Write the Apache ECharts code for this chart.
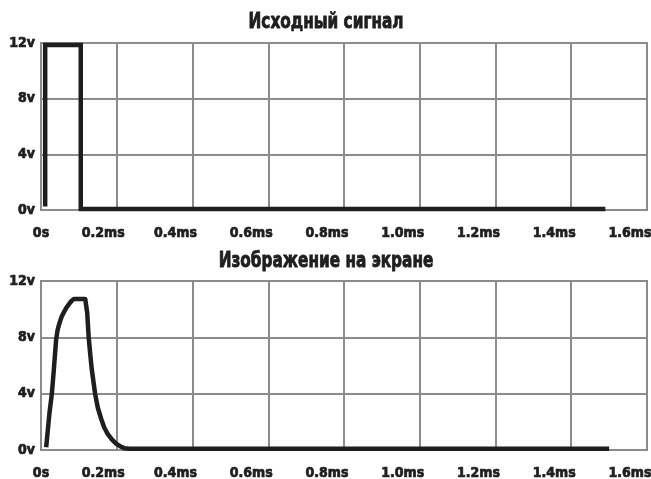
<!DOCTYPE html>
<html>
<head>
<meta charset="utf-8">
<script src="https://cdn.jsdelivr.net/npm/echarts@6/dist/echarts.min.js"></script>
<style>
html,body{margin:0;padding:0;background:#fff;}
#c{width:651px;height:479px;}
</style>
</head>
<body>
<div id="c"></div>
<script>
// ---- data ----
var titles = ['Исходный сигнал', 'Изображение на экране'];
var xTickLabels = ['0s', '0.2ms', '0.4ms', '0.6ms', '0.8ms', '1.0ms', '1.2ms', '1.4ms', '1.6ms'];
var yTickLabels = ['0v', '4v', '8v', '12v'];

// original signal (time in ms, voltage in V)
var srcTime = [0.011, 0.011, 0.105, 0.105, 1.49];
var srcVolt = [0.25, 11.85, 11.85, 0.08, 0.08];

// displayed signal
var dispTime = [0.0137, 0.0225, 0.0286, 0.034, 0.040, 0.044, 0.049, 0.055, 0.062, 0.068, 0.075, 0.081, 0.0867, 0.1167, 0.119, 0.122, 0.126, 0.130, 0.134, 0.143, 0.150, 0.159, 0.167, 0.176, 0.187, 0.199, 0.21, 0.22, 0.233, 0.247, 1.5];
var dispVolt = [0.2, 2.67, 3.97, 5.74, 7.86, 8.55, 9.03, 9.5, 9.86, 10.15, 10.4, 10.6, 10.73, 10.73, 10.3, 9.74, 7.97, 6.8, 5.74, 3.97, 3.0, 2.2, 1.6, 1.14, 0.75, 0.44, 0.25, 0.13, 0.09, 0.08, 0.08];

function pairs(t, v) { return t.map(function (x, i) { return [x, v[i]]; }); }

var FONT = "'DejaVu Sans Condensed', 'Liberation Sans Narrow', sans-serif";
var GRID_COLOR = '#8c8c8c';
var INK = '#1e1e1e';

function labelStyle() {
  return { color: INK, fontFamily: FONT, fontWeight: 'bold', fontSize: 14,
           textBorderColor: INK, textBorderWidth: 0.7 };
}
function richStyle(padRight) {
  var s = labelStyle();
  s.padding = [0, padRight, 0, 0];
  return s;
}
function xAxis(gi) {
  var l = labelStyle();
  l.margin = 16;
  l.rich = { z: richStyle(0), a: richStyle(27), b: richStyle(34) };
  l.formatter = function (v) {
    var i = Math.round(v / 0.2);
    var key = i === 0 ? 'z' : (i === 1 ? 'a' : 'b');
    return '{' + key + '|' + xTickLabels[i] + '}';
  };
  return {
    type: 'value', gridIndex: gi, min: 0, max: 1.6, interval: 0.2,
    axisLine: { show: true, lineStyle: { color: GRID_COLOR, width: 2 } },
    axisTick: { show: false },
    splitLine: { show: true, lineStyle: { color: GRID_COLOR, width: 2 } },
    axisLabel: l
  };
}
function yAxis(gi) {
  var l = labelStyle();
  l.margin = 6;
  l.formatter = function (v) { return yTickLabels[Math.round(v / 4)]; };
  return {
    type: 'value', gridIndex: gi, min: 0, max: 12, interval: 4,
    axisLine: { show: true, lineStyle: { color: GRID_COLOR, width: 2 } },
    axisTick: { show: false },
    splitLine: { show: true, lineStyle: { color: GRID_COLOR, width: 2 } },
    axisLabel: l
  };
}
function titleText(txt, y) {
  return {
    type: 'text', x: 326, y: y, scaleX: 0.81,
    style: {
      text: txt, fill: INK, textAlign: 'center', textVerticalAlign: 'middle',
      font: 'bold 21px ' + FONT, stroke: INK, lineWidth: 0.8
    }
  };
}

var chart = echarts.init(document.getElementById('c'), null, { renderer: 'canvas' });
chart.setOption({
  animation: false,
  backgroundColor: '#fff',
  grid: [
    { left: 41, right: 4, top: 43, height: 167, show: true, borderColor: GRID_COLOR, borderWidth: 2, outerBoundsMode: 'none', containLabel: false },
    { left: 41, right: 4, top: 281, height: 169, show: true, borderColor: GRID_COLOR, borderWidth: 2, outerBoundsMode: 'none', containLabel: false }
  ],
  graphic: [titleText(titles[0], 23), titleText(titles[1], 262)],
  xAxis: [xAxis(0), xAxis(1)],
  yAxis: [yAxis(0), yAxis(1)],
  series: [
    {
      type: 'line', xAxisIndex: 0, yAxisIndex: 0, data: pairs(srcTime, srcVolt),
      showSymbol: false, symbol: 'none',
      lineStyle: { color: INK, width: 4.5, join: 'miter', cap: 'butt' }
    },
    {
      type: 'line', xAxisIndex: 1, yAxisIndex: 1, data: pairs(dispTime, dispVolt),
      showSymbol: false, symbol: 'none',
      lineStyle: { color: INK, width: 4.5, join: 'round', cap: 'butt' }
    }
  ]
});
</script>
</body>
</html>
